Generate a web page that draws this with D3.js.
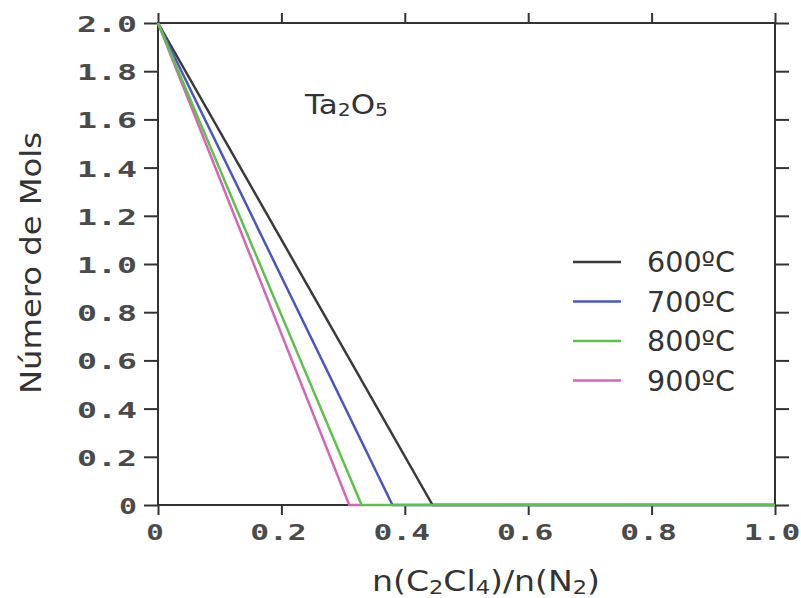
<!DOCTYPE html>
<html>
<head>
<meta charset="utf-8">
<script src="https://cdn.jsdelivr.net/npm/d3@7"></script>
<style>
  body { margin: 0; background: #fff; }
  svg { display: block; }
</style>
</head>
<body>
<script>
// values
const xTicks = [0, 0.2, 0.4, 0.6, 0.8, 1.0]
const yTicks = [0, 0.2, 0.4, 0.6, 0.8, 1.0, 1.2, 1.4, 1.6, 1.8, 2.0]
const xLabels = ["0", "0.2", "0.4", "0.6", "0.8", "1.0"]
const yLabels = ["0", "0.2", "0.4", "0.6", "0.8", "1.0", "1.2", "1.4", "1.6", "1.8", "2.0"]

const series = ["600ºC", "700ºC", "800ºC", "900ºC"]
const colors = ["#3a3a3a", "#4a56c4", "#5cc24a", "#d865b4"]
// each curve: start at 2 mol, drops to 0 then stays at 0
const xs600 = [0, 0.445, 1.0]
const ys600 = [2.0, 0, 0]
const xs700 = [0, 0.38, 1.0]
const ys700 = [2.0, 0, 0]
const xs800 = [0, 0.33, 1.0]
const ys800 = [2.0, 0, 0]
const xs900 = [0, 0.31, 0.33]
const ys900 = [2.0, 0, 0]
const allX = [xs600, xs700, xs800, xs900]
const allY = [ys600, ys700, ys800, ys900]
const drawOrder = [0, 1, 3, 2]

const W = 801, H = 598
const pLeft = 158, pRight = 775, pTop = 23, pBottom = 505

const svg = d3.select("body").append("svg")
    .attr("width", W)
    .attr("height", H)

const x = d3.scaleLinear().domain([0, 1]).range([pLeft, pRight])
const y = d3.scaleLinear().domain([0, 2]).range([pBottom, pTop])

const axisColor = "#333"

function ticks(axis, tr) {
    const g = svg.append("g")
        .attr("transform", tr)
        .call(axis)
    g.select(".domain").remove()
    g.selectAll("line").attr("stroke", axisColor).attr("stroke-width", 2)
    g.selectAll("text").remove()
    return g
}

ticks(d3.axisLeft(y).tickValues(yTicks).tickSize(14), `translate(${pLeft},0)`)
ticks(d3.axisRight(y).tickValues(yTicks).tickSize(14), `translate(${pRight},0)`)
ticks(d3.axisBottom(x).tickValues(xTicks).tickSize(10), `translate(0,${pBottom})`)
ticks(d3.axisTop(x).tickValues(xTicks).tickSize(10), `translate(0,${pTop})`)

svg.append("rect")
    .attr("x", pLeft)
    .attr("y", pTop)
    .attr("width", pRight - pLeft)
    .attr("height", pBottom - pTop)
    .attr("fill", "none")
    .attr("stroke", axisColor)
    .attr("stroke-width", 2)

// stretched mono tick labels
svg.selectAll(".ylab")
    .data(yTicks)
    .enter()
    .append("text")
    .attr("class", "ylab")
    .attr("x", 137)
    .attr("y", d => y(d) + 9)
    .attr("text-anchor", "end")
    .attr("textLength", (d, i) => yLabels[i].length * 21 - 3)
    .attr("lengthAdjust", "spacingAndGlyphs")
    .style("font-family", "DejaVu Sans Mono")
    .style("font-weight", "bold")
    .style("font-size", "21px")
    .attr("fill", "#4a4a4a")
    .text((d, i) => yLabels[i])

svg.selectAll(".xlab")
    .data(xTicks)
    .enter()
    .append("text")
    .attr("class", "xlab")
    .attr("x", d => x(d) - 3)
    .attr("y", 540)
    .attr("text-anchor", "middle")
    .attr("textLength", (d, i) => xLabels[i].length * 19.5 - 2)
    .attr("lengthAdjust", "spacingAndGlyphs")
    .style("font-family", "DejaVu Sans Mono")
    .style("font-weight", "bold")
    .style("font-size", "22px")
    .attr("fill", "#4a4a4a")
    .text((d, i) => xLabels[i])

// curves
const line = d3.line()
    .x(d => x(d[0]))
    .y(d => y(d[1]))

drawOrder.forEach(k => {
    svg.append("path")
        .datum(allX[k].map((v, j) => [v, allY[k][j]]))
        .attr("d", line)
        .attr("fill", "none")
        .attr("stroke", colors[k])
        .attr("stroke-width", 2.5)
})

// legend
const legend = svg.append("g")
series.forEach((s, i) => {
    const ly = 262 + i * 39.5
    legend.append("line")
        .attr("x1", 573).attr("x2", 621)
        .attr("y1", ly).attr("y2", ly)
        .attr("stroke", colors[i])
        .attr("stroke-width", 2.5)
    legend.append("text")
        .attr("x", 647)
        .attr("y", ly + 10)
        .attr("textLength", 88)
        .attr("lengthAdjust", "spacingAndGlyphs")
        .style("font-family", "DejaVu Sans")
        .style("font-size", "28px")
        .attr("fill", "#333")
        .text(s)
})

const font = "DejaVu Sans"

svg.append("text")
    .attr("x", 305)
    .attr("y", 114)
    .attr("textLength", 83)
    .attr("lengthAdjust", "spacingAndGlyphs")
    .style("font-family", font)
    .style("font-size", "26px")
    .attr("fill", "#333")
    .html('Ta<tspan font-size="17px" dy="2">2</tspan><tspan dy="-2">O</tspan><tspan font-size="17px" dy="2">5</tspan>')

svg.append("text")
    .attr("transform", "translate(41,263) rotate(-90)")
    .attr("text-anchor", "middle")
    .attr("textLength", 262)
    .attr("lengthAdjust", "spacingAndGlyphs")
    .style("font-family", font)
    .style("font-size", "28px")
    .attr("fill", "#333")
    .text("Número de Mols")

svg.append("text")
    .attr("x", 486)
    .attr("y", 591)
    .attr("text-anchor", "middle")
    .attr("textLength", 228)
    .attr("lengthAdjust", "spacingAndGlyphs")
    .style("font-family", font)
    .style("font-size", "28px")
    .attr("fill", "#333")
    .html('n(C<tspan font-size="19px" dy="3">2</tspan><tspan dy="-3">Cl</tspan><tspan font-size="19px" dy="3">4</tspan><tspan dy="-3">)/n(N</tspan><tspan font-size="19px" dy="3">2</tspan><tspan dy="-3">)</tspan>')
</script>
</body>
</html>
